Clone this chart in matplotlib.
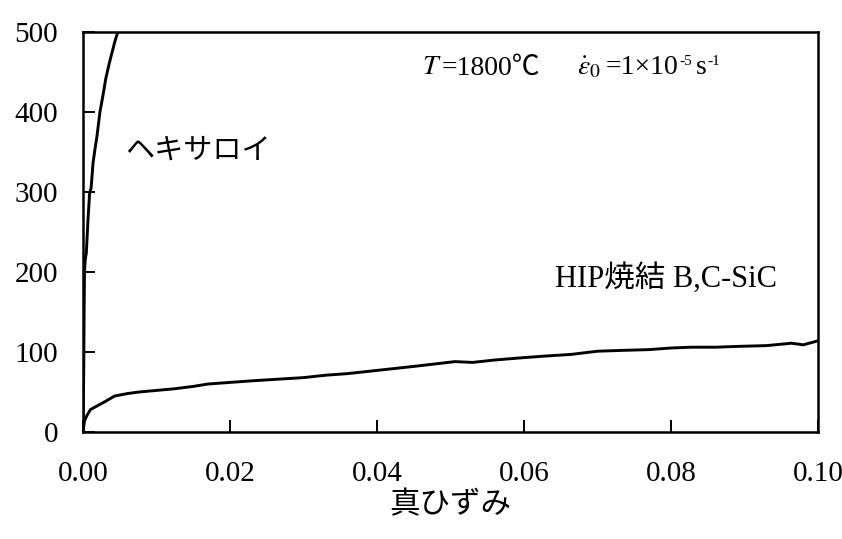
import matplotlib
matplotlib.use("Agg")
import matplotlib.pyplot as plt
from matplotlib.ticker import FormatStrFormatter

plt.rcParams["font.family"] = ["Liberation Serif", "Noto Sans CJK JP"]
plt.rcParams["mathtext.fontset"] = "stix"

# ハステロイ (left, steep curve)
hast_strain = [0, 0.0001, 0.00015, 0.0002, 0.0003, 0.00045, 0.00068, 0.0009, 0.0011,
               0.00136, 0.0016, 0.0019, 0.0023, 0.0027, 0.0031, 0.0036, 0.0043, 0.0049]
hast_stress = [0, 80, 150, 200, 215, 224, 266, 299, 305,
               336, 352, 370, 400, 420, 442, 462, 487, 505]

# HIP焼結 B4C-SiC (lower curve)
sic_strain = [0, 0.0002, 0.0005, 0.001, 0.002, 0.003, 0.0043, 0.006, 0.0076, 0.01,
              0.0124, 0.015, 0.017, 0.02, 0.023, 0.0265, 0.03, 0.033, 0.036, 0.04,
              0.045, 0.0506, 0.053, 0.056, 0.06, 0.063, 0.0664, 0.07, 0.0732, 0.077,
              0.08, 0.0827, 0.086, 0.089, 0.093, 0.0964, 0.098, 0.1]
sic_stress = [0, 14, 20, 28, 33, 38, 45, 48, 50, 52,
              54, 57, 60, 62, 64, 66, 68, 71, 73, 77,
              82, 88, 87, 90, 93, 95, 97, 101, 102, 103,
              105, 106, 106, 107, 108, 111, 109, 114]

x_ticks = [0.0, 0.02, 0.04, 0.06, 0.08, 0.10]
y_ticks = [0, 100, 200, 300, 400, 500]

fig = plt.figure(figsize=(8.42, 5.39), dpi=100)
ax = fig.add_axes([0.0986, 0.1985, 0.8729, 0.7421])

ax.plot(hast_strain, hast_stress, color="black", lw=2.1)
ax.plot(sic_strain, sic_stress, color="black", lw=2.1)

ax.set_xlim(0, 0.1)
ax.set_ylim(0, 500)
ax.set_xticks(x_ticks)
ax.set_yticks(y_ticks)
ax.xaxis.set_major_formatter(FormatStrFormatter("%.2f"))
ax.tick_params(direction="in", length=8.5, width=1.4, labelsize=21,
               top=False, right=False)
ax.tick_params(axis="x", pad=21)
ax.tick_params(axis="y", pad=18)
for sp in ax.spines.values():
    sp.set_linewidth(1.8)

ax.set_xlabel("真ひずみ", fontsize=22, labelpad=3)

ax.text(0.0057, 350, "ヘキサロイ", fontsize=21, va="center", ha="left")
ax.text(0.0642, 192, "HIP焼結 B,C-SiC", fontsize=22, va="center", ha="left")


def chain(prev, s, size, dx=0.0, dy=0.0):
    # place s right after prev, sharing its bottom edge
    return ax.annotate(s, xy=(1, 0), xycoords=prev, xytext=(dx, dy),
                       textcoords="offset points", fontsize=size,
                       ha="left", va="bottom")


fs = 20
t0 = ax.text(0.0461, 447, "$T$", fontsize=fs, va="baseline", ha="left")
t1 = chain(t0, "=1800℃", fs)
t2 = chain(t1, r"$\dot{\varepsilon}_{0}$", fs, dx=27)
t3 = chain(t2, "=1×10", fs, dx=3)
t4 = chain(t3, "-5", 11, dx=0.5, dy=9)
t5 = chain(t4, "s", fs, dx=3, dy=-9)
t6 = chain(t5, "-1", 11, dx=0.5, dy=9)

fig.savefig("out.png", dpi=100)
